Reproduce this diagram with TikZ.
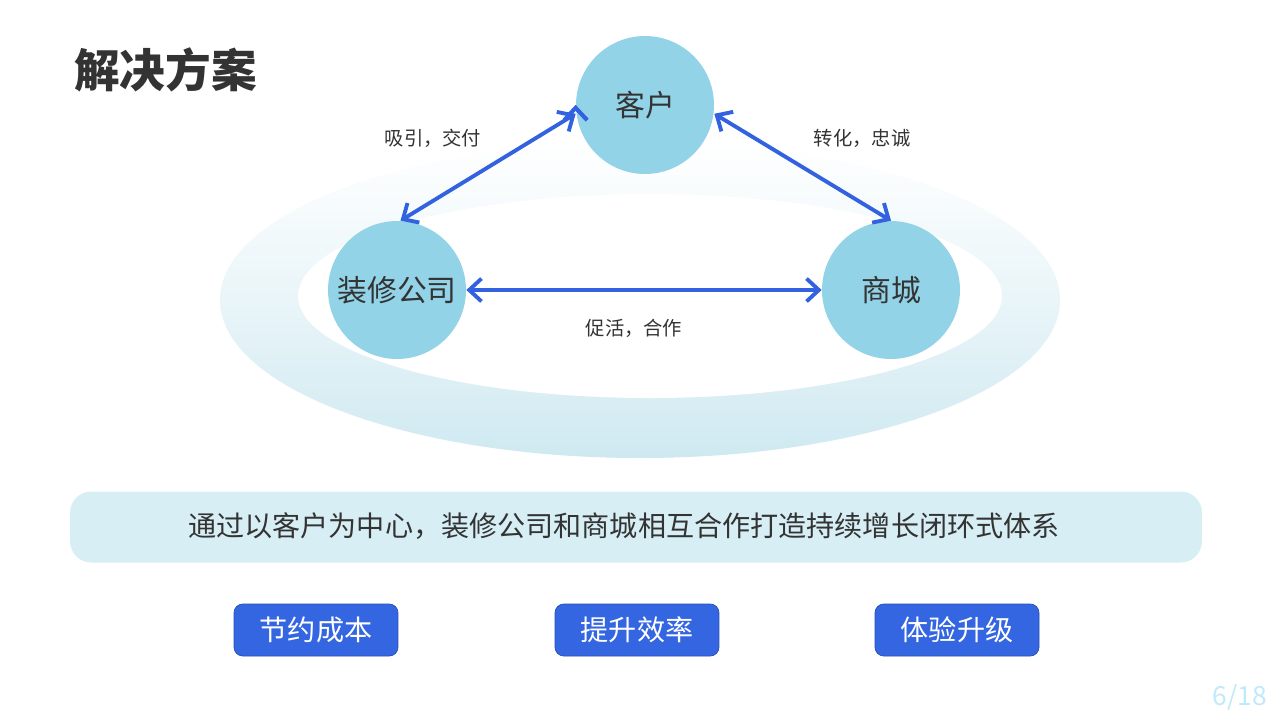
\documentclass[tikz,border=0pt]{standalone}
\usepackage{fontspec}
\setmainfont{Noto Sans CJK SC}
\usetikzlibrary{arrows.meta,positioning}
\definecolor{ringblue}{HTML}{CFE9F1}
\definecolor{nodeblue}{HTML}{93D3E8}
\definecolor{arrowblue}{HTML}{3262E0}
\definecolor{bannerblue}{HTML}{D6EEF4}
\definecolor{btnblue}{HTML}{3566E2}
\definecolor{textgray}{HTML}{333333}
\begin{document}
\begin{tikzpicture}[x=0.02cm,y=-0.02cm,
  party/.style={circle, fill=nodeblue, minimum size=2.76cm, inner sep=0pt, font=\fontsize{17}{20}\selectfont, text=textgray},
  link/.style={<->, arrowblue, line width=2.2pt, >={Straight Barb[length=7pt,width=13pt,line width=2.2pt]}},
  lbl/.style={font=\fontsize{11}{13}\selectfont, text=textgray},
  btn/.style={rounded corners=5pt, fill=btnblue, draw=arrowblue!80!black, minimum width=3.28cm, minimum height=1.04cm, text=white, font=\fontsize{16}{19}\selectfont}]
\useasboundingbox (0,0) rectangle (1280,720);
\fill[white] (0,0) rectangle (1280,720);

% Title
\node[anchor=west, text=textgray, font=\fontsize{26}{30}\selectfont\bfseries] (title) at (68,70) {解决方案};

% Ring behind the triangle
\shade[top color=white, bottom color=ringblue, middle color=ringblue!45] (640,300) ellipse [x radius=420, y radius=158];
\fill[white] (650,296) ellipse [x radius=352, y radius=102];

% Parties
\node[party] (client) at (645,105) {客户};
\node[party] (firm) at (397,290) {装修公司};
\node[party] (mall) at (891,290) {商城};

% Links
\draw[link] (firm.north) ++(0,0) coordinate (fa) (client.west) coordinate (ca);
\draw[link] ([xshift=2]firm.north) -- ([yshift=-5]client.west);
\draw[link] ([yshift=-5]client.east) -- (mall.north);
\draw[link] (firm.east) -- (mall.west);

\node[lbl] (l1) at (433,138) {吸引，交付};
\node[lbl] (l2) at (862,138) {转化，忠诚};
\node[lbl] (l3) at (634,328) {促活，合作};

% Banner
\node[rounded corners=12pt, fill=bannerblue, minimum width=22.64cm, minimum height=1.42cm] (banner) at (636,527) {};
\node[text=textgray, font=\fontsize{16}{19}\selectfont] (summary) at (624,526) {通过以客户为中心，装修公司和商城相互合作打造持续增长闭环式体系};

% Benefits
\node[btn] (b1) at (316,630) {节约成本};
\node[btn] (b2) at (637,630) {提升效率};
\node[btn] (b3) at (957,630) {体验升级};

\node[text=cyan!25, font=\fontsize{15}{18}\selectfont] (page) at (1240,697) {6/18};
\end{tikzpicture}
\end{document}
